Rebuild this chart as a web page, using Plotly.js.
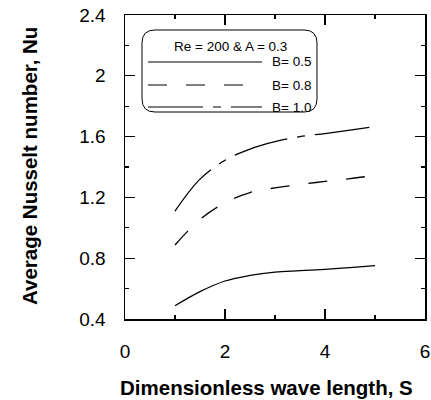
<!DOCTYPE html>
<html>
<head>
<meta charset="utf-8">
<script src="https://cdn.plot.ly/plotly-3.0.1.min.js"></script>
<style>html,body{margin:0;padding:0;background:#fff;}#chart{width:431px;height:400px;}</style>
</head>
<body>
<div id="chart"></div>
<script>
// ---- data ----
const S = [1, 1.5, 2, 2.5, 3, 3.5, 4, 4.5, 5];
const nuB05 = [0.487, 0.58, 0.65, 0.687, 0.709, 0.718, 0.727, 0.738, 0.751];
const nuB08 = [0.887, 1.055, 1.165, 1.232, 1.263, 1.285, 1.305, 1.323, 1.345];
const nuB10 = [1.11, 1.32, 1.444, 1.518, 1.567, 1.60, 1.62, 1.643, 1.665];
const seriesNames = ["B= 0.5", "B= 0.8", "B= 1.0"];
const legendTitle = "Re = 200 & A = 0.3";
const xTitle = "Dimensionless wave length, S";
const yTitle = "Average Nusselt number, Nu";
const xTicks = [0, 2, 4, 6];
const yTicks = [0.4, 0.8, 1.2, 1.6, 2, 2.4];
const yTickText = ["0.4", "0.8", "1.2", "1.6", "2", "2.4"];

// ---- layout geometry (pixels) ----
const W = 431, H = 400;
const M = {l: 125, r: 6, t: 15, b: 81};
const PW = W - M.l - M.r, PH = H - M.t - M.b;
const px = x => (x - M.l) / PW;          // pixel -> paper x
const py = y => (H - M.b - y) / PH;      // pixel -> paper y

const dashes = ["solid", "19px,19px", "55px,10px,8px,10px"];
const font = "Arial, 'Liberation Sans', Helvetica, sans-serif";

const traces = [nuB05, nuB08, nuB10].map((v, i) => ({
  x: S, y: v, type: "scatter", mode: "lines", name: seriesNames[i],
  line: {color: "#000", width: 1.3, dash: dashes[i], shape: "spline", smoothing: 1},
  showlegend: false, hoverinfo: "skip"
}));

// rounded legend box
function roundRect(x0, y0, x1, y1, r) {
  const X = v => px(v).toFixed(5), Y = v => py(v).toFixed(5);
  return `M${X(x0 + r)},${Y(y0)} L${X(x1 - r)},${Y(y0)} Q${X(x1)},${Y(y0)} ${X(x1)},${Y(y0 + r)} ` +
    `L${X(x1)},${Y(y1 - r)} Q${X(x1)},${Y(y1)} ${X(x1 - r)},${Y(y1)} ` +
    `L${X(x0 + r)},${Y(y1)} Q${X(x0)},${Y(y1)} ${X(x0)},${Y(y1 - r)} ` +
    `L${X(x0)},${Y(y0 + r)} Q${X(x0)},${Y(y0)} ${X(x0 + r)},${Y(y0)} Z`;
}

const shapes = [
  {type: "path", xref: "paper", yref: "paper", path: roundRect(142, 30, 317, 112, 13),
   line: {color: "#000", width: 1}, fillcolor: "rgba(0,0,0,0)"},
];
const legRows = [62, 85, 107];
const legEnds = [262, 246, 262];
const legColors = ["#808080", "#000", "#000"];
const legWidths = [2, 1.2, 1.2];
legRows.forEach((yy, i) => {
  shapes.push({type: "line", xref: "paper", yref: "paper",
    x0: px(148), x1: px(legEnds[i]), y0: py(yy), y1: py(yy),
    line: {color: legColors[i], width: legWidths[i], dash: dashes[i]}});
});

const annotations = [
  {xref: "paper", yref: "paper", x: px(230), y: py(46), text: legendTitle, showarrow: false,
   font: {family: font, size: 13.5, color: "#000"}, xanchor: "center", yanchor: "middle"},
  {xref: "paper", yref: "paper", x: px(266), y: py(387), text: xTitle, showarrow: false,
   font: {family: font, size: 20.5, color: "#000", weight: "bold"}, xanchor: "center", yanchor: "middle"},
  {xref: "paper", yref: "paper", x: px(29), y: py(166), text: yTitle, showarrow: false, textangle: -90,
   font: {family: font, size: 20.5, color: "#000", weight: "bold"}, xanchor: "center", yanchor: "middle"}
];
legRows.forEach((yy, i) => {
  annotations.push({xref: "paper", yref: "paper", x: px(313), y: py(yy), text: seriesNames[i],
    showarrow: false, xanchor: "right", yanchor: "middle",
    font: {family: font, size: 13.5, color: "#000"}});
});

const axisCommon = {
  showgrid: false, zeroline: false, showline: true, linecolor: "#000", linewidth: 1.5,
  mirror: "allticks", ticks: "inside", ticklen: 10, tickwidth: 1.2, tickcolor: "#000",
  tickfont: {family: font, size: 19, color: "#000"},
  minor: {ticks: "inside", ticklen: 4, tickwidth: 1.2, tickcolor: "#000"}
};

const layout = {
  width: W, height: H, margin: M, paper_bgcolor: "#fff", plot_bgcolor: "#fff",
  showlegend: false,
  xaxis: Object.assign({}, axisCommon, {
    range: [0, 6], tickvals: xTicks, ticktext: xTicks.map(String),
    minor: Object.assign({}, axisCommon.minor, {tickvals: [1, 3, 5]}),
    ticklabelstandoff: 15
  }),
  yaxis: Object.assign({}, axisCommon, {
    range: [0.4, 2.4], tickvals: yTicks, ticktext: yTickText,
    minor: Object.assign({}, axisCommon.minor, {tickvals: [0.6, 1.0, 1.4, 1.8, 2.2]}),
    ticklabelstandoff: 14
  }),
  shapes: shapes, annotations: annotations
};

Plotly.newPlot("chart", traces, layout, {staticPlot: true, displayModeBar: false});
</script>
</body>
</html>
